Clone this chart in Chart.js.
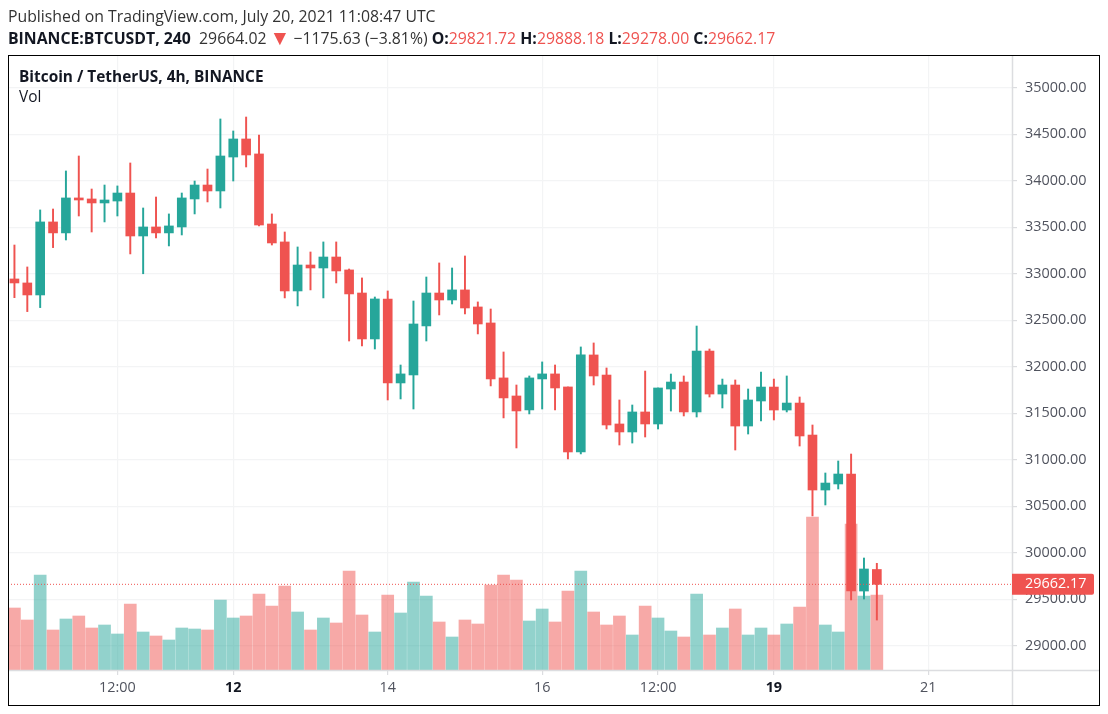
<!DOCTYPE html>
<html>
<head>
<meta charset="utf-8">
<title>BTCUSDT 4h</title>
<script src="https://cdn.jsdelivr.net/npm/chart.js@4"></script>
<style>
  html, body { margin: 0; padding: 0; background: #fff; }
  body { width: 1108px; height: 714px; position: relative; overflow: hidden; font-family: "Open Sans", sans-serif; color: #131722; }
  #chart-btc { position: absolute; left: 0; top: 0; }
  #frame { position: absolute; left: 8px; top: 55px; width: 1090px; height: 649px; border: 1.5px solid #000; pointer-events: none; }
  .line { position: absolute; left: 8px; white-space: nowrap; font-size: 15.8px; line-height: 20px; }
  #published { top: 6px; color: #333; }
  #quote { top: 28px; color: #333; }
  #quote b { color: #131722; }
  #quote .red { color: #ef5350; }
  #quote .arrow { font-size: 21px; line-height: 0; position: relative; top: 1px; margin: 0 -1px; }
  #title { position: absolute; left: 19px; top: 67px; font-size: 15.4px; line-height: 20px; font-weight: 700; }
  #vol-label { position: absolute; left: 19px; top: 87px; font-size: 15.4px; line-height: 20px; }
</style>
</head>
<body>
<canvas id="chart-btc" width="1108" height="714"></canvas>
<div id="frame"></div>
<div class="line" id="published">Published on TradingView.com, July 20, 2021 11:08:47 UTC</div>
<div class="line" id="quote"><b>BINANCE:BTCUSDT, 240</b>&nbsp; 29664.02 <span class="red arrow">▼</span> −1175.63 (−3.81%) <b>O:</b><span class="red">29821.72</span> <b>H:</b><span class="red">29888.18</span> <b>L:</b><span class="red">29278.00</span> <b>C:</b><span class="red">29662.17</span></div>
<div id="title">Bitcoin / TetherUS, 4h, BINANCE</div>
<div id="vol-label">Vol</div>
<script>
const opens = [32945, 32902, 32773, 33558, 33440, 33816, 33805, 33762, 33783, 33869, 33407, 33504, 33440, 33504, 33805, 33955, 33891,
  34256, 34450, 34289, 33536, 33343, 32816, 33095, 33063, 33181, 33042, 32794, 32300, 32730, 31827, 31913, 32440, 32794,
  32719, 32827, 32644, 32472, 31881, 31687, 31537, 31870, 31924, 31784, 31085, 32128, 31912, 31386, 31300, 31515, 31386,
  31762, 31837, 31515, 32170, 31708, 31805, 31364, 31633, 31783, 31536, 31611, 31267, 30676, 30741, 30848, 29590, 29821.72];
const highs = [33310, 33074, 33687, 33697, 34106, 34267, 33912, 33955, 33945, 34192, 33708, 33826, 33644, 33869, 33998, 34127, 34665,
  34536, 34686, 34493, 33644, 33450, 33289, 33235, 33343, 33343, 33052, 32956, 32751, 32816, 32020, 32708, 32966, 33117,
  33063, 33192, 32698, 32622, 32160, 31805, 31902, 32053, 32020, 31784, 32214, 32257, 31988, 31644, 31590, 31955, 31773,
  31923, 31902, 32439, 32192, 31869, 31859, 31762, 31945, 31869, 31902, 31676, 31375, 30859, 30988, 31063, 29945, 29888.18];
const lows = [32744, 32594, 32637, 33282, 33364, 33622, 33450, 33558, 33622, 33214, 33001, 33386, 33300, 33418, 33644, 33773, 33708,
  33998, 34149, 33515, 33310, 32741, 32655, 32827, 32741, 32902, 32278, 32225, 32192, 31644, 31655, 31547, 32278, 32558,
  32676, 32569, 32354, 31795, 31451, 31128, 31494, 31547, 31537, 31010, 31064, 31805, 31332, 31160, 31181, 31246, 31332,
  31525, 31472, 31461, 31676, 31558, 31106, 31278, 31418, 31429, 31515, 31149, 30397, 30515, 30687, 29494, 29504, 29278];
const closes = [32902, 32773, 33558, 33440, 33816, 33794, 33762, 33794, 33869, 33407, 33504, 33440, 33515, 33816, 33955, 33891, 34267,
  34450, 34278, 33525, 33332, 32816, 33095, 33063, 33181, 33031, 32784, 32300, 32730, 31827, 31924, 32461, 32794, 32719,
  32827, 32633, 32461, 31870, 31666, 31526, 31881, 31924, 31773, 31085, 32128, 31902, 31375, 31300, 31515, 31386, 31773,
  31837, 31515, 32170, 31708, 31805, 31364, 31644, 31783, 31536, 31611, 31257, 30676, 30751, 30848, 29590, 29827, 29662.17];
const volumes = [1860, 1500, 2850, 1200, 1530, 1620, 1260, 1350, 1080, 1980, 1140, 1020, 900, 1260, 1230, 1200, 2100,
  1560, 1620, 2280, 1920, 2520, 1740, 1200, 1560, 1410, 2970, 1650, 1140, 2250, 1710, 2640, 2220, 1440,
  990, 1500, 1380, 2550, 2850, 2700, 1470, 1830, 1440, 2370, 2970, 1740, 1350, 1620, 1050, 1920, 1560,
  1170, 990, 2280, 1050, 1260, 1830, 1050, 1260, 1050, 1380, 1890, 4590, 1350, 1140, 4380, 2220, 2250];

const slotCount = 78;
const timeTickSlots = [8, 17, 29, 41, 50, 59, 71];
const timeTickLabels = ["12:00", "12", "14", "16", "12:00", "19", "21"];
const boldTimeLabels = ["12", "19"];
const priceTicks = [29000, 29500, 30000, 30500, 31000, 31500, 32000, 32500, 33000, 33500, 34000, 34500, 35000];
const lastPrice = 29662.17;
const priceMin = 28741;
const priceMax = 35342;
const volumeMax = 18420;

const UP = "#26a69a";
const DOWN = "#ef5350";
const UP_VOL = "rgba(38, 166, 154, 0.5)";
const DOWN_VOL = "rgba(239, 83, 80, 0.5)";
const GRID = "#f3f4f5";
const AXIS = "#dcdde0";

const categories = Array.from({ length: slotCount }, (_, i) => {
  const at = timeTickSlots.indexOf(i);
  return at >= 0 ? timeTickLabels[at] : "";
});
const isUp = closes.map((c, i) => c >= opens[i]);

// axis lines reach into the scale gutters, and the last price tag sits on top of them
const overlayPlugin = {
  id: "overlay",
  afterDraw(chart) {
    const { ctx, chartArea, scales } = chart;
    ctx.save();
    ctx.strokeStyle = AXIS;
    ctx.lineWidth = 1.5;
    ctx.beginPath();
    ctx.moveTo(chartArea.left, chartArea.bottom + 0.5);
    ctx.lineTo(1099, chartArea.bottom + 0.5);
    ctx.moveTo(chartArea.right + 0.5, chartArea.top);
    ctx.lineTo(chartArea.right + 0.5, 705);
    ctx.stroke();

    const y = scales.y.getPixelForValue(lastPrice);
    ctx.strokeStyle = DOWN;
    ctx.lineWidth = 1;
    ctx.setLineDash([1, 2]);
    ctx.beginPath();
    ctx.moveTo(chartArea.left, y);
    ctx.lineTo(chartArea.right, y);
    ctx.stroke();
    ctx.setLineDash([]);

    ctx.fillStyle = DOWN;
    ctx.beginPath();
    ctx.roundRect(chartArea.right, y - 10.5, 82, 21, [0, 2, 2, 0]);
    ctx.fill();
    ctx.fillStyle = "#fff";
    ctx.font = '14.4px "Open Sans"';
    ctx.textAlign = "left";
    ctx.textBaseline = "middle";
    ctx.fillText(lastPrice.toFixed(2), 1025, y);
    ctx.restore();
  },
};

new Chart(document.getElementById("chart-btc"), {
  data: {
    labels: categories,
    datasets: [
      {
        type: "bar",
        label: "Volume",
        yAxisID: "yVol",
        data: volumes,
        backgroundColor: isUp.map((up) => (up ? UP_VOL : DOWN_VOL)),
        barThickness: 12,
        grouped: false,
        order: 3,
      },
      {
        type: "bar",
        label: "Wick",
        yAxisID: "y",
        data: highs.map((h, i) => [lows[i], h]),
        backgroundColor: isUp.map((up) => (up ? UP : DOWN)),
        barThickness: 1.3,
        grouped: false,
        order: 2,
      },
      {
        type: "bar",
        label: "Body",
        yAxisID: "y",
        data: opens.map((o, i) => [Math.min(o, closes[i]), Math.max(o, closes[i])]),
        backgroundColor: isUp.map((up) => (up ? UP : DOWN)),
        barThickness: 9,
        grouped: false,
        order: 1,
      },
    ],
  },
  options: {
    responsive: false,
    animation: false,
    layout: { padding: { left: 8, top: 56, right: 9, bottom: 9 } },
    plugins: { legend: { display: false }, tooltip: { enabled: false } },
    scales: {
      x: {
        offset: true,
        grid: { offset: false, color: GRID, lineWidth: 1.2, tickColor: AXIS, tickLength: 5 },
        border: { display: false },
        afterBuildTicks: (scale) => {
          scale.ticks = timeTickSlots.map((v) => ({ value: v }));
        },
        afterFit: (scale) => {
          scale.height = 35;
        },
        ticks: {
          autoSkip: false,
          maxRotation: 0,
          padding: 4,
          callback: (value) => categories[value],
          color: (ctx) => (boldTimeLabels.includes(ctx.tick.label) ? "#131722" : "#50535e"),
          font: (ctx) => ({
            family: "Open Sans",
            size: 14.4,
            weight: boldTimeLabels.includes(ctx.tick.label) ? "700" : "400",
          }),
        },
      },
      y: {
        position: "right",
        min: priceMin,
        max: priceMax,
        grid: { color: GRID, lineWidth: 1.2, tickColor: AXIS, tickLength: 5 },
        border: { display: false },
        afterBuildTicks: (scale) => {
          scale.ticks = priceTicks.map((v) => ({ value: v }));
        },
        afterFit: (scale) => {
          scale.width = 87;
        },
        ticks: {
          padding: 8,
          color: "#50535e",
          font: { family: "Open Sans", size: 14.4 },
          callback: (value) => Number(value).toFixed(2),
        },
      },
      yVol: {
        display: false,
        min: 0,
        max: volumeMax,
      },
    },
  },
  plugins: [overlayPlugin],
});
</script>
</body>
</html>
